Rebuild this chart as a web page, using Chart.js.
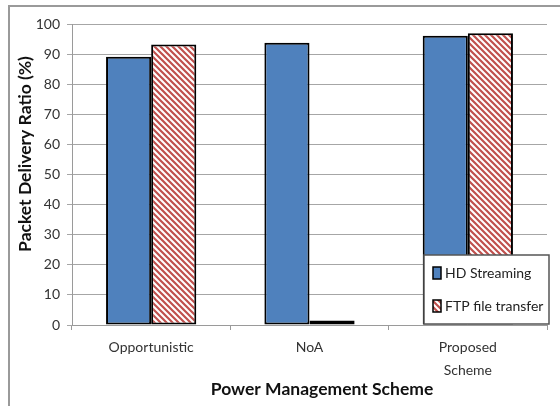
<!DOCTYPE html>
<html>
<head>
<meta charset="utf-8">
<script src="https://cdn.jsdelivr.net/npm/chart.js@4"></script>
<style>
  body { margin: 0; background: #fff; }
  #frame { position: absolute; left: 8px; top: 5px; width: 600px; height: 450px; border-left: 2px solid #9a9a9a; border-top: 2px solid #9a9a9a; }
  #myChart { position: absolute; left: 0; top: 0; }
</style>
</head>
<body>
<div id="frame"></div>
<canvas id="myChart" width="560" height="406"></canvas>
<script>
const schemes = ["Opportunistic", "NoA", ["Proposed", "Scheme"]];
const hdStreaming = [89.1, 93.8, 96.1];
const ftpTransfer = [93.2, 1.5, 96.9];
const seriesNames = ["HD Streaming", "FTP file transfer"];
const yTicks = [0, 10, 20, 30, 40, 50, 60, 70, 80, 90, 100];
const xTitle = "Power Management Scheme";
const yTitle = "Packet Delivery Ratio (%)";

const blue = "#4F81BD";
const red = "#C0504D";

// diagonal red hatch for the FTP bars
function makeHatch() {
  const c = document.createElement("canvas");
  c.width = 6;
  c.height = 6;
  const g = c.getContext("2d");
  g.fillStyle = "#fff";
  g.fillRect(0, 0, 6, 6);
  g.strokeStyle = red;
  g.lineWidth = 2.2;
  g.beginPath();
  g.moveTo(-1, -1);
  g.lineTo(7, 7);
  g.moveTo(-4, 2);
  g.lineTo(4, 10);
  g.moveTo(2, -4);
  g.lineTo(10, 4);
  g.stroke();
  return g.createPattern(c, "repeat");
}

const ctx = document.getElementById("myChart");
const hatch = makeHatch();

// axis titles + legend box drawn inside the plot, like the original
const extras = {
  id: "extras",
  afterDraw(chart) {
    const g = chart.ctx;
    g.save();
    g.fillStyle = "#111";
    g.font = "bold 17.5px Lato";
    g.textAlign = "center";
    g.textBaseline = "middle";
    g.fillText(xTitle, 322, 389);
    g.translate(25, 154);
    g.rotate(-Math.PI / 2);
    g.fillText(yTitle, 0, 0);
    g.restore();

    g.save();
    g.fillStyle = "#fff";
    g.fillRect(424, 255, 125, 69);
    g.strokeStyle = "#555";
    g.lineWidth = 1.5;
    g.strokeRect(424, 255, 125, 69);
    const fills = [blue, hatch];
    const ys = [273, 306];
    g.font = "14px Lato";
    g.textBaseline = "middle";
    g.textAlign = "left";
    for (let i = 0; i < 2; i++) {
      g.fillStyle = fills[i];
      g.fillRect(433, ys[i] - 6, 8, 12);
      g.strokeStyle = "#000";
      g.lineWidth = 1.5;
      g.strokeRect(433, ys[i] - 6, 8, 12);
      g.fillStyle = "#222";
      g.fillText(seriesNames[i], 445, ys[i]);
    }
    g.restore();
  },
};

const myChart = new Chart(ctx, {
  type: "bar",
  data: {
    labels: schemes,
    datasets: [
      {
        label: seriesNames[0],
        data: hdStreaming,
        backgroundColor: blue,
        borderColor: "#000",
        borderWidth: 2,
        borderSkipped: false,
        categoryPercentage: 0.57,
        barPercentage: 1,
      },
      {
        label: seriesNames[1],
        data: ftpTransfer,
        backgroundColor: hatch,
        borderColor: "#000",
        borderWidth: 2,
        borderSkipped: false,
        categoryPercentage: 0.57,
        barPercentage: 1,
      },
    ],
  },
  options: {
    responsive: false,
    animation: false,
    layout: { padding: { left: 0, right: 13, top: 24, bottom: 0 } },
    plugins: {
      legend: { display: false },
      tooltip: { enabled: false },
    },
    scales: {
      x: {
        offset: true,
        grid: {
          offset: true,
          drawOnChartArea: false,
          drawTicks: true,
          tickLength: 5,
          color: "#9a9a9a",
        },
        border: { color: "#9a9a9a" },
        ticks: {
          padding: 6,
          color: "#333",
          font: { family: "Lato", size: 14, lineHeight: 1.65 },
          maxRotation: 0,
        },
        afterFit(scale) {
          scale.height = 81;
        },
      },
      y: {
        min: 0,
        max: 100,
        afterBuildTicks(scale) {
          scale.ticks = yTicks.map((v) => ({ value: v }));
        },
        grid: { color: "#a6a6a6", tickLength: 5 },
        border: { color: "#9a9a9a" },
        ticks: {
          padding: 7,
          color: "#333",
          font: { family: "Lato", size: 14 },
        },
        afterFit(scale) {
          scale.width = 72;
        },
      },
    },
  },
  plugins: [extras],
});
</script>
</body>
</html>
